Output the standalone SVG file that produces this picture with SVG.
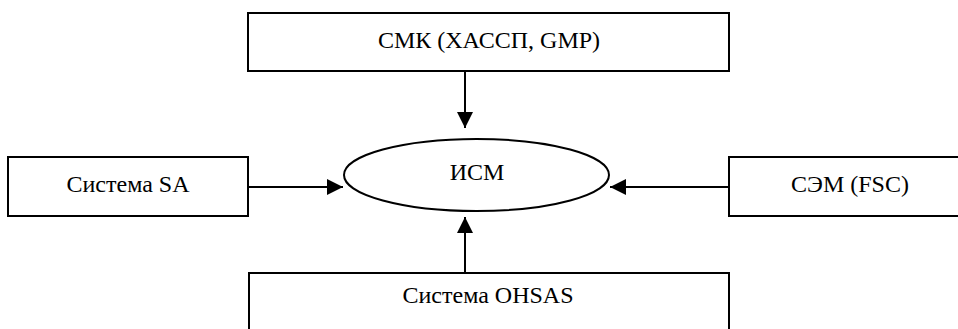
<svg xmlns="http://www.w3.org/2000/svg" width="958" height="329" viewBox="0 0 958 329">
  <style>
    .box { fill: #ffffff; stroke: #000000; stroke-width: 2; }
    .ell { fill: #ffffff; stroke: #000000; stroke-width: 2; }
    .lbl { font-family: "Liberation Serif", "Times New Roman", serif; font-size: 24px; fill: #000000; }
    .conn { stroke: #000000; stroke-width: 2; fill: none; marker-end: url(#arrow); }
  </style>
  <defs>
    <marker id="arrow" markerWidth="16" markerHeight="16" viewBox="0 0 16 16" refX="16" refY="8" orient="auto" markerUnits="userSpaceOnUse">
      <path d="M0,0 L16,8 L0,16 Z" fill="#000000"/>
    </marker>
  </defs>
  <rect width="958" height="329" fill="#ffffff"/>

  <g id="qms">
    <rect class="box" x="248" y="13" width="481" height="58"/>
    <text class="lbl" x="489" y="48" text-anchor="middle">СМК (ХАССП, GMP)</text>
  </g>

  <g id="sa">
    <rect class="box" x="8" y="157" width="240" height="59"/>
    <text class="lbl" x="128" y="192" text-anchor="middle">Система SA</text>
  </g>

  <g id="ims">
    <ellipse class="ell" cx="476.5" cy="175" rx="132.5" ry="36"/>
    <text class="lbl" x="477" y="180" text-anchor="middle">ИСМ</text>
  </g>

  <g id="ems">
    <rect class="box" x="729" y="157" width="240" height="59"/>
    <text class="lbl" x="850" y="192" text-anchor="middle">СЭМ (FSC)</text>
  </g>

  <g id="ohsas">
    <rect class="box" x="249" y="273" width="480" height="70"/>
    <text class="lbl" x="488" y="303" text-anchor="middle">Система OHSAS</text>
  </g>

  <g id="connectors">
    <line class="conn" x1="465" y1="71" x2="465" y2="128"/>
    <line class="conn" x1="248" y1="187" x2="343" y2="187"/>
    <line class="conn" x1="729" y1="187" x2="610" y2="187"/>
    <line class="conn" x1="465" y1="273" x2="465" y2="217"/>
  </g>
</svg>
